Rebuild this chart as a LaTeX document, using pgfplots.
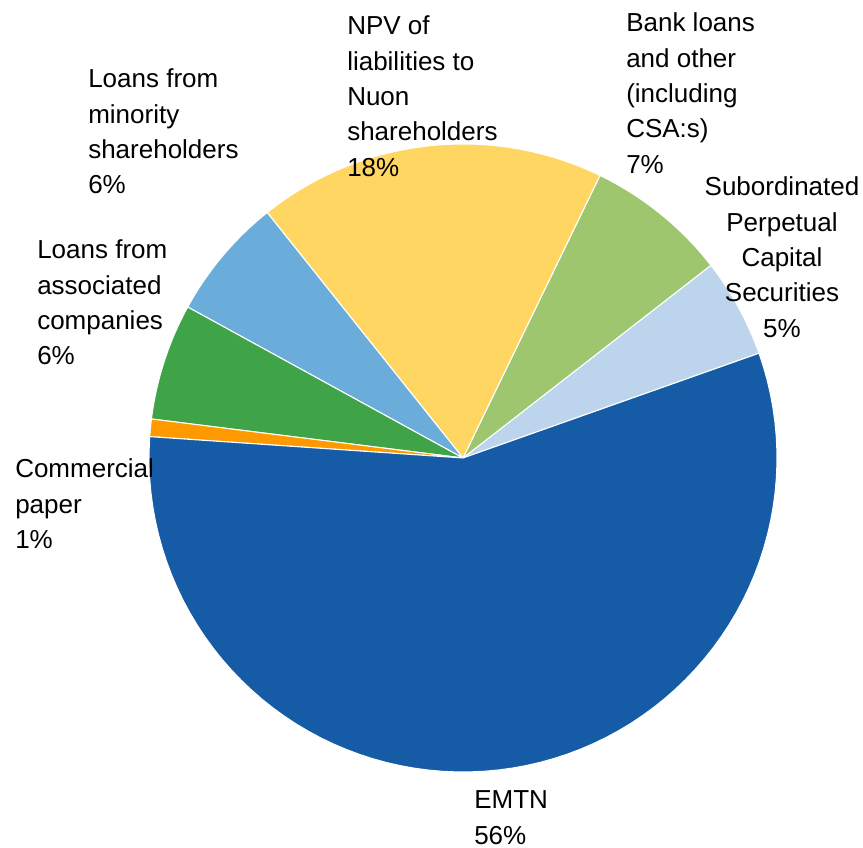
\documentclass[border=0pt]{standalone}
\usepackage{pgfplots}
\pgfplotsset{compat=1.18}
\usepackage{fontspec}
\setmainfont{Liberation Sans}
\definecolor{cEMTN}{RGB}{21,91,166}
\definecolor{cCP}{RGB}{255,153,0}
\definecolor{cLAC}{RGB}{63,163,72}
\definecolor{cLMS}{RGB}{106,173,218}
\definecolor{cNPV}{RGB}{255,214,98}
\definecolor{cBank}{RGB}{157,198,110}
\definecolor{cSub}{RGB}{189,213,236}
% slice values (percent), counter-clockwise from start angle
\def\vSub{5.1}
\def\vBank{7.3}
\def\vNPV{17.9}
\def\vLMS{6.3}
\def\vLAC{6.0}
\def\vCP{0.9}
\def\vEMTN{56.5}
\pgfmathsetmacro\aA{19.5}
\pgfmathsetmacro\aB{\aA+3.6*\vSub}
\pgfmathsetmacro\aC{\aB+3.6*\vBank}
\pgfmathsetmacro\aD{\aC+3.6*\vNPV}
\pgfmathsetmacro\aE{\aD+3.6*\vLMS}
\pgfmathsetmacro\aF{\aE+3.6*\vLAC}
\pgfmathsetmacro\aG{\aF+3.6*\vCP}
\pgfmathsetmacro\aH{\aG+3.6*\vEMTN}
\newcommand{\slice}[3]{%
  \addplot[fill=#3, draw=white, line width=0.8pt, domain=#1:#2, samples=80, variable=\t]
    ({463+314*cos(\t)},{390+314*sin(\t)}) -- (axis cs:463,390) -- cycle;}
\begin{document}
\begin{tikzpicture}
\begin{axis}[x=0.75pt, y=0.75pt, xmin=0, xmax=863, ymin=0, ymax=848,
  hide axis, clip=false, scale only axis]
\slice{\aA}{\aB}{cSub}
\slice{\aB}{\aC}{cBank}
\slice{\aC}{\aD}{cNPV}
\slice{\aD}{\aE}{cLMS}
\slice{\aE}{\aF}{cLAC}
\slice{\aF}{\aG}{cCP}
\slice{\aG}{\aH}{cEMTN}
\end{axis}
\path (0,0) rectangle (647.25pt,636pt);
\begin{scope}[x=0.75pt, y=0.75pt, every node/.style={inner sep=0pt, font=\fontsize{19.5}{24}\selectfont}]
\newcommand{\lbl}[4]{%
  \foreach \t [count=\i from 0] in {#4} {\node[anchor=#3] at (#1, {848-#2-35.3*\i}) {\t};}}
\lbl{88}{88}{base west}{{Loans from},{minority},{shareholders},{6\%}}
\lbl{37}{259}{base west}{{Loans from},{associated},{companies},{6\%}}
\lbl{347}{35}{base west}{{NPV of},{liabilities to},{Nuon},{shareholders},{18\%}}
\lbl{626}{32}{base west}{{Bank loans},{and other},{(including},{CSA:s)},{7\%}}
\lbl{782}{196}{base}{{Subordinated},{Perpetual},{Capital},{Securities},{5\%}}
\lbl{15}{478}{base west}{{Commercial},{paper},{1\%}}
\lbl{474}{809}{base west}{{EMTN},{56\%}}
\end{scope}
\end{tikzpicture}
\end{document}
